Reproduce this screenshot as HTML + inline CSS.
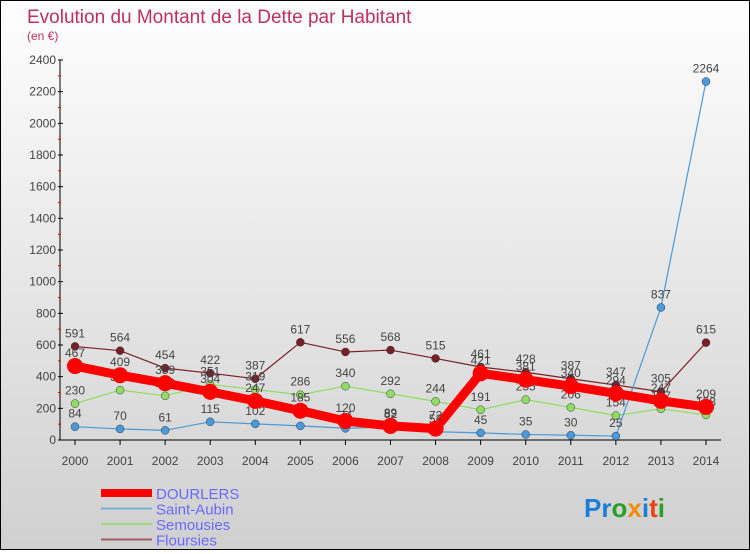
<!DOCTYPE html>
<html><head><meta charset="utf-8"><style>
html,body{margin:0;padding:0}
body{width:750px;height:550px;overflow:hidden;font-family:"Liberation Sans",sans-serif}
#wrap{position:relative;width:748px;height:548px;border:1px solid #000;background:linear-gradient(#fefefe,#d0d0d0)}
</style></head><body>
<div id="wrap">
<svg id="chart" width="748" height="548" xmlns="http://www.w3.org/2000/svg">
<text x="26" y="22" font-size="19" fill="#c0305a">Evolution du Montant de la Dette par Habitant</text>
<text x="26" y="39" font-size="12" fill="#c0305a">(en €)</text>
<g id="axes"></g><g id="series"></g>
<g id="legend"></g>
<text x="583" y="516" font-size="26" font-weight="bold"><tspan fill="#1a7fd6">Pr</tspan><tspan fill="#2aa02a">o</tspan><tspan fill="#f08c00">x</tspan><tspan fill="#1a7fd6">i</tspan><tspan fill="#f04010">t</tspan><tspan fill="#2aa02a">i</tspan></text>
</svg></div>
<script>
const years=[2000,2001,2002,2003,2004,2005,2006,2007,2008,2009,2010,2011,2012,2013,2014];
const dourlers=[467,409,359,304,247,185,120,89,72,421,381,340,294,247,209];
const saintAubin=[84,70,61,115,102,89,74,82,52,45,35,30,25,837,2264];
const semousies=[230,315,279,351,319,286,340,292,244,191,255,206,154,197,158];
const floursies=[591,564,454,422,387,617,556,568,515,461,428,387,347,305,615];
const yTicks=[0,200,400,600,800,1000,1200,1400,1600,1800,2000,2200,2400];
const NS="http://www.w3.org/2000/svg";
const xS=i=>74+i*(705-74)/14;
const yS=v=>439-v*(380/2400);
function mk(t,a,p){const e=document.createElementNS(NS,t);for(const k in a)e.setAttribute(k,a[k]);p.appendChild(e);return e;}
const ax=document.getElementById('axes');
let l=mk('line',{x1:59,y1:yS(0),x2:59,y2:yS(2400),stroke:'#000'},ax);

l=mk('line',{x1:59,y1:yS(0),x2:720,y2:yS(0),stroke:'#000'},ax);

yTicks.forEach((v,i)=>{
 mk('line',{x1:57,x2:62,y1:yS(v),y2:yS(v),stroke:'#000'},ax);
 if(i<yTicks.length-1)mk('line',{x1:57,x2:60,y1:yS(v+100),y2:yS(v+100),stroke:'#f00'},ax);
 const t=mk('text',{x:55,y:yS(v)+4,'font-size':12,'text-anchor':'end',fill:'#444'},ax);t.textContent=v;
 
});
years.forEach((y,i)=>{
 mk('line',{x1:xS(i),x2:xS(i),y1:yS(0),y2:yS(0)+5,stroke:'#000'},ax);
 const t=mk('text',{x:xS(i),y:yS(0)+25,'font-size':12,'text-anchor':'middle',fill:'#444'},ax);t.textContent=y;
 
});
const sg=document.getElementById('series');
const defs=[
 {n:'floursies',d:floursies,c:'#7a1f24',w:1.2,r:4},
 {n:'semousies',d:semousies,c:'#90dd60',w:1.2,r:4},
 {n:'saint-aubin',d:saintAubin,c:'#4a9ad8',w:1.2,r:4},
 {n:'dourlers',d:dourlers,c:'#f00',w:9,r:8}];
defs.forEach(s=>{
 const g=mk('g',{},sg);
 
 const p=mk('polyline',{points:s.d.map((v,i)=>xS(i)+','+yS(v)).join(' '),fill:'none',stroke:s.c,'stroke-width':s.w,'stroke-linejoin':'round'},g);
 
 s.d.forEach((v,i)=>{
  const c=mk('circle',{cx:xS(i),cy:yS(v),r:s.r,fill:s.c,stroke:s.n==='dourlers'?'none':'#335',"stroke-width":0.5},g);
  
  const t=mk('text',{x:xS(i),y:yS(v)-9,'font-size':12,'text-anchor':'middle',fill:'#444'},g);t.textContent=v;
  
 });
});
const lg=document.getElementById('legend');
[['DOURLERS','#f00',8],['Saint-Aubin','#7ab0d0',2],['Semousies','#a0d880',2],['Floursies','#9a6060',2]].forEach((e,i)=>{
 const y=492+i*15.5;
 const ln=mk('line',{x1:100,x2:151,y1:y,y2:y,stroke:e[1],'stroke-width':e[2]},lg);
 
 const t=mk('text',{x:155,y:y+6,'font-size':15,fill:'#6a6aff'},lg);t.textContent=e[0];
 
});
</script>
</body></html>
